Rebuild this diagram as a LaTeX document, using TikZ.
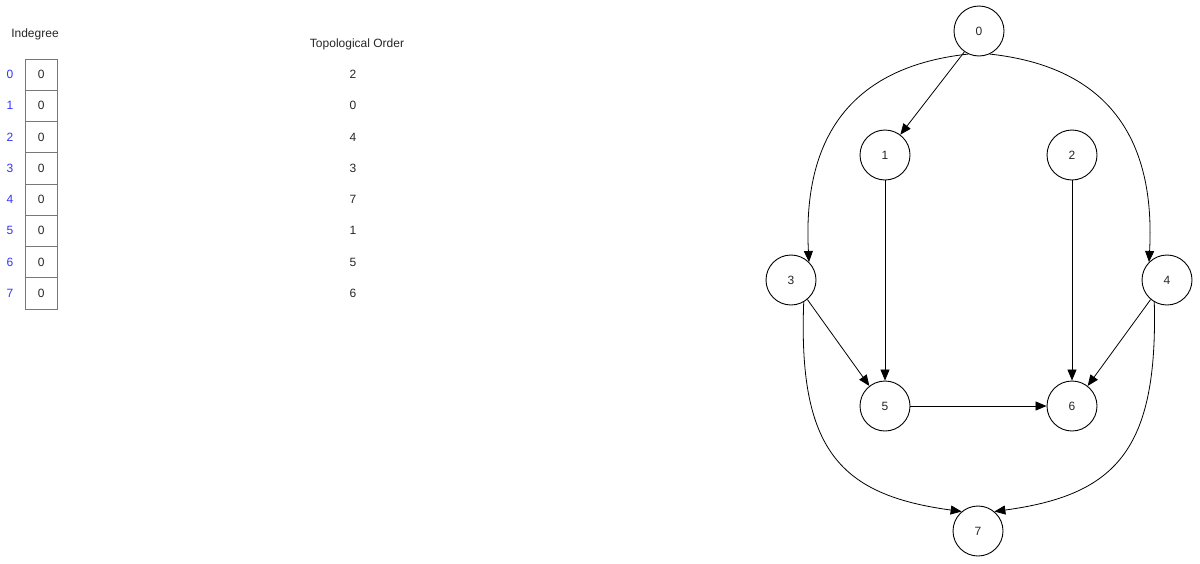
\documentclass[tikz,border=0pt]{standalone}
\usepackage{fontspec}
\setmainfont{Liberation Sans}
\usetikzlibrary{arrows.meta}
\definecolor{idxblue}{RGB}{51,51,255}
\definecolor{cellgray}{RGB}{120,120,120}
\begin{document}
\begin{tikzpicture}[x=1pt,y=-1pt,
  every node/.style={font=\fontsize{12}{14}\selectfont, text=black!85},
  vtx/.style={circle, draw, line width=0.9pt, minimum size=50pt, inner sep=0pt},
  cell/.style={draw=cellgray, line width=0.8pt, minimum width=31.3pt, minimum height=31.25pt, inner sep=0pt},
  idx/.style={text=idxblue},
  edge/.style={line width=0.8pt, -{Triangle[length=11pt,width=9pt]}}]
\useasboundingbox (0,0) rectangle (1200,563);
% table
\node (hdr) at (35,34) {Indegree};
\node (tohdr) at (357,44) {Topological Order};
\foreach \i/\t in {0/2,1/0,2/4,3/3,4/7,5/1,6/5,7/6}{
  \node[cell] (c\i) at (41.3,{74.6+31.25*\i}) {0};
  \node[idx] (i\i) at (10,{74.6+31.25*\i}) {\i};
  \node (t\i) at (353,{74.6+31.25*\i}) {\t};
}
% graph
\node[vtx] (n0) at (979,31) {0};
\node[vtx] (n1) at (885,155) {1};
\node[vtx] (n2) at (1072,155) {2};
\node[vtx] (n3) at (791,280) {3};
\node[vtx] (n4) at (1167,280) {4};
\node[vtx] (n5) at (885,406) {5};
\node[vtx] (n6) at (1072,406) {6};
\node[vtx] (n7) at (978,531) {7};
\draw[edge] (n0.235) -- (n1.53);
\draw[edge] (n0.245) .. controls (840,68) and (803,150) .. (n3.north east);
\draw[edge] (n0.295) .. controls (1118,68) and (1155,150) .. (n4.north west);
\draw[edge] (n1) -- (n5);
\draw[edge] (n2) -- (n6);
\draw[edge] (n3.-50) -- (n5.128);
\draw[edge] (n4.230) -- (n6.52);
\draw[edge] (n5) -- (n6);
\draw[edge] (n3.-60) .. controls (798,450) and (840,495) .. (n7.130);
\draw[edge] (n4.240) .. controls (1158,450) and (1116,495) .. (n7.50);
\end{tikzpicture}
\end{document}
